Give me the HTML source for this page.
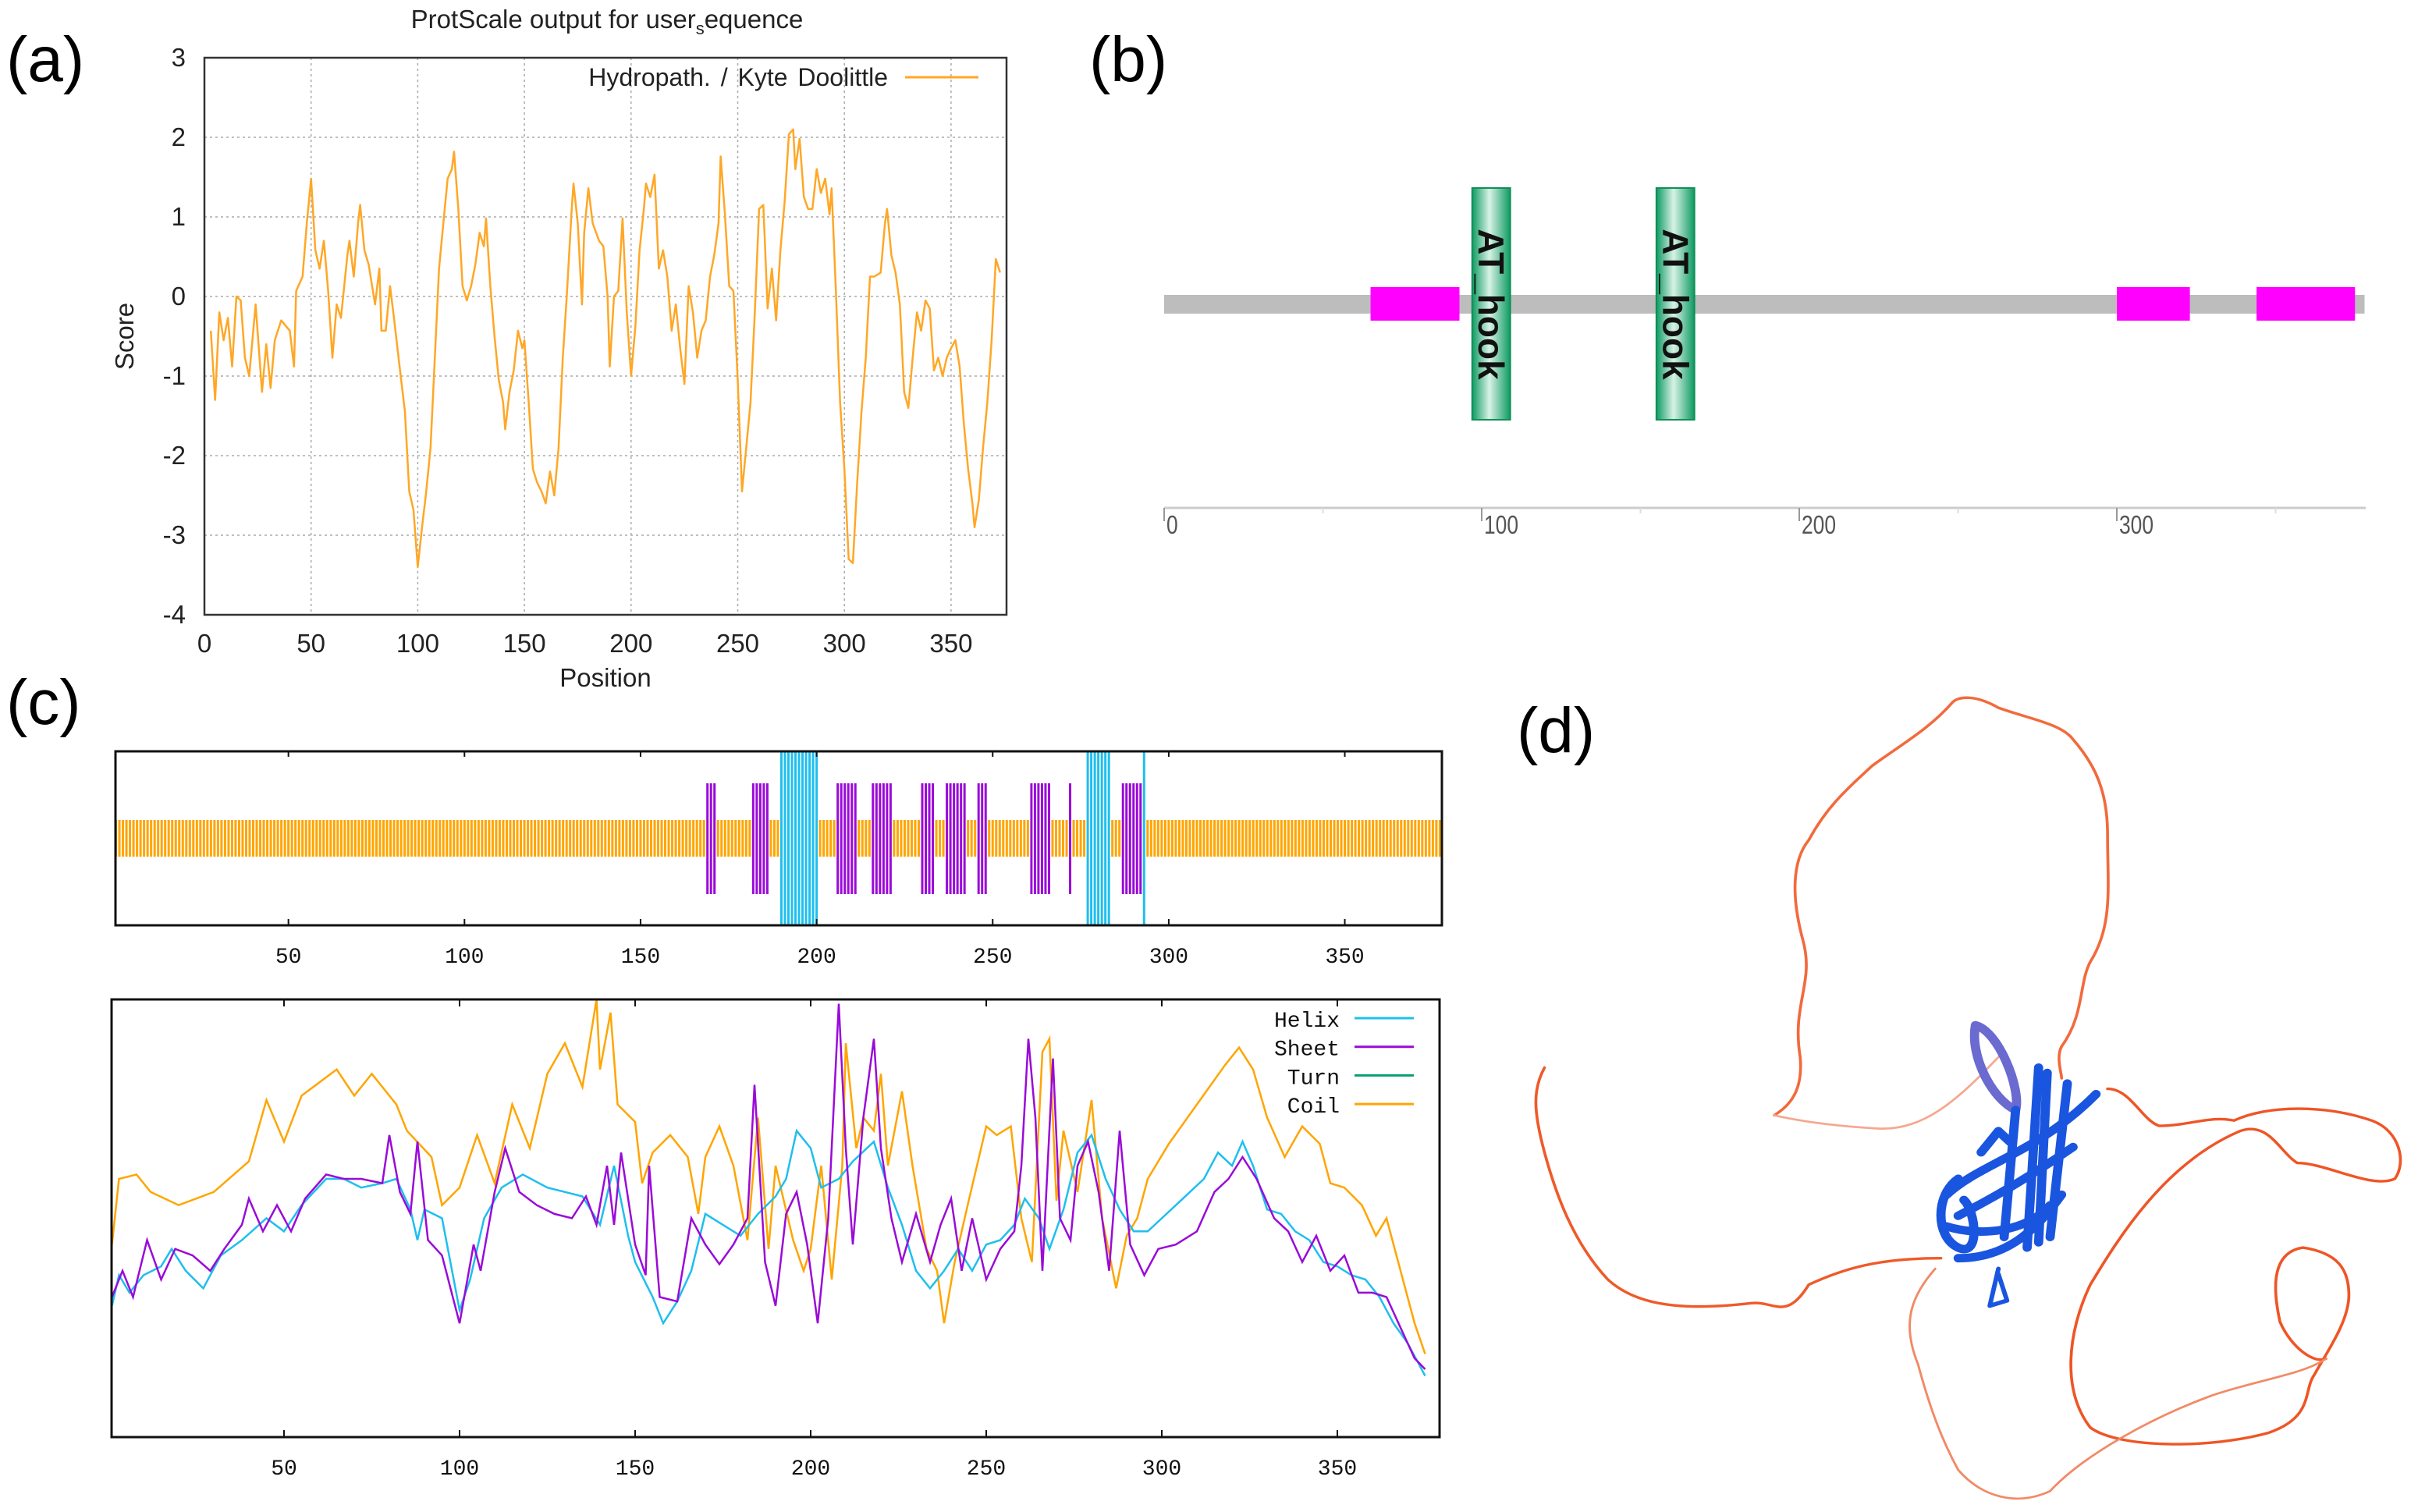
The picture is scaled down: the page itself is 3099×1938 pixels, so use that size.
<!DOCTYPE html>
<html><head><meta charset="utf-8"><style>
html,body{margin:0;padding:0;background:#fff;}
svg{display:block;}
text{font-family:"Liberation Sans",sans-serif;}
.mono{font-family:"Liberation Mono",monospace;}
</style></head><body>
<svg id="fig" xmlns="http://www.w3.org/2000/svg" width="3099" height="1938" viewBox="0 0 3099 1938">
<rect width="3099" height="1938" fill="#fff"/>
<text x="8" y="104" font-size="82">(a)</text>
<text x="1396" y="104" font-size="82">(b)</text>
<text x="8" y="928" font-size="82">(c)</text>
<text x="1944" y="964" font-size="82">(d)</text>

<g id="pa"></g>
<g id="pb"></g>
<g id="pc1"></g>
<g id="pc2"></g>

<g transform="translate(1950,880) scale(0.7364,0.6784)" fill="none" stroke-linecap="round" stroke-linejoin="round">
  <path stroke="#f26a3c" stroke-width="5" d="M440,810 C470,790 490,760 485,700 C470,600 510,560 490,480 C470,400 470,330 500,290 C530,230 560,200 610,150 C660,110 710,80 750,30 C760,18 790,15 830,40 C880,60 940,70 960,100 C1000,150 1020,200 1020,280 C1020,380 1030,450 990,520 C970,560 980,620 940,680 C930,700 940,730 940,740"/>
  <path stroke="#f5a890" stroke-width="4" d="M440,810 C480,820 540,830 620,835 C700,840 760,780 830,700"/>
  <path stroke="#ef5a2a" stroke-width="5" d="M40,720 C20,760 20,800 40,880 C60,960 90,1050 150,1120 C200,1170 280,1180 400,1165 C440,1160 460,1200 500,1130 C560,1100 620,1080 730,1080"/>
  <path stroke="#ef5526" stroke-width="5" d="M1020,760 C1060,760 1080,820 1110,830 C1160,830 1200,810 1240,820 C1300,790 1400,790 1480,820 C1530,840 1540,900 1520,930 C1480,950 1400,900 1350,900 C1320,880 1300,820 1250,840 C1120,900 1040,1040 990,1130 C950,1220 940,1330 990,1400 C1040,1440 1200,1440 1300,1410 C1380,1380 1360,1330 1380,1300 C1400,1260 1440,1200 1440,1150 C1440,1100 1420,1070 1360,1060 C1300,1070 1310,1150 1320,1200 C1340,1250 1380,1280 1400,1270"/>
  <path stroke="#f28a66" stroke-width="4" d="M720,1100 C680,1150 660,1200 690,1280 C710,1360 730,1420 760,1480 C800,1530 860,1550 920,1520 C980,1450 1100,1380 1200,1340 C1280,1310 1360,1300 1400,1270"/>
  <g stroke="#1a55e0" stroke-width="16">
    <path stroke="#6a6ad0" d="M790,640 C780,700 820,780 860,800 C870,760 830,650 790,640"/>
    <path d="M860,800 L840,1040 M900,720 L880,1060 M915,730 L900,1050 M950,750 L920,1040"/>
    <path d="M740,960 C800,900 900,880 1000,770 M760,1000 C850,950 920,900 960,870 M760,1080 C850,1080 900,1020 940,960 M740,1020 C800,1040 880,1030 920,980"/>
    <path d="M760,930 C720,960 720,1040 760,1060 C800,1080 790,990 770,970 M800,880 L830,840 L850,860"/>
    <path stroke-width="8" d="M830,1100 L815,1170 L845,1160 L830,1110"/>
  </g>
</g>
</svg>
<script>
var NS="http://www.w3.org/2000/svg";
function mk(p,t,a){var e=document.createElementNS(NS,t);for(var k in a)e.setAttribute(k,a[k]);p.appendChild(e);return e;}

/* ---------- Panel (a) data ---------- */
var hydroPos=[3,5,7,9,11,13,15,17,19,21,24,27,29,31,33,36,40,42,43,46,48,50,52,54,56,58,60,62,64,67,68,70,72,73,75,77,80,82,83,85,87,89,91,94,96,98,100,102,104,106,108,110,112,114,116,117,119,121,123,125,127,129,131,132,134,136,138,140,141,143,145,147,149,150,152,154,156,158,160,162,164,166,168,170,172,173,175,177,178,180,182,185,187,189,190,192,194,196,198,200,202,204,206,207,209,211,213,215,217,219,221,223,225,227,229,231,233,235,237,239,241,242,244,246,248,250,252,254,256,258,260,262,264,266,268,270,272,274,276,277,279,281,283,285,287,289,291,293,294,296,298,300,302,304,306,308,310,312,314,317,319,320,322,324,326,328,330,332,334,336,338,340,342,344,346,348,350,352,354,356,358,360,361,363,365,367,369,371,373];
var hydroScore=[-0.43,-1.3,-0.2,-0.55,-0.27,-0.88,0,-0.05,-0.77,-1.0,-0.1,-1.2,-0.6,-1.15,-0.55,-0.3,-0.43,-0.88,0.07,0.25,0.92,1.48,0.58,0.35,0.7,0.07,-0.77,-0.1,-0.27,0.52,0.7,0.25,0.92,1.15,0.58,0.4,-0.1,0.35,-0.43,-0.43,0.13,-0.3,-0.77,-1.45,-2.45,-2.68,-3.4,-2.9,-2.45,-1.9,-0.77,0.35,0.92,1.48,1.6,1.82,1.1,0.13,-0.05,0.13,0.4,0.8,0.63,0.98,0.13,-0.5,-1.05,-1.33,-1.67,-1.2,-0.93,-0.43,-0.65,-0.55,-1.33,-2.17,-2.34,-2.45,-2.6,-2.2,-2.5,-1.9,-0.77,0.07,1.03,1.42,0.92,-0.1,0.8,1.36,0.92,0.7,0.63,0,-0.88,0,0.07,0.98,-0.2,-1.0,-0.38,0.58,1.1,1.42,1.25,1.53,0.35,0.58,0.25,-0.43,-0.1,-0.65,-1.1,0.13,-0.2,-0.77,-0.43,-0.3,0.25,0.52,0.92,1.76,1.03,0.13,0.07,-1.05,-2.45,-1.9,-1.33,-0.2,1.1,1.15,-0.15,0.35,-0.3,0.58,1.2,2.04,2.1,1.6,1.98,1.25,1.1,1.1,1.6,1.3,1.48,1.03,1.36,0.07,-1.33,-2.17,-3.3,-3.35,-2.34,-1.45,-0.77,0.25,0.25,0.3,0.92,1.1,0.52,0.3,-0.1,-1.2,-1.4,-0.77,-0.2,-0.43,-0.05,-0.15,-0.93,-0.77,-1.0,-0.77,-0.65,-0.55,-0.88,-1.6,-2.17,-2.6,-2.9,-2.56,-1.9,-1.33,-0.55,0.47,0.3];
var hydroXTicks=[0,50,100,150,200,250,300,350];
var hydroYTicks=[3,2,1,0,-1,-2,-3,-4];

/* ---------- Panel (b) data ---------- */
var protLength=378;
var motifStart=[65,300,344];
var motifEnd=[93,323,375];
var domainStart=[97,155];
var domainEnd=[109,167];
var domainLabel=['AT_hook','AT_hook'];
var domainXTicks=[0,100,200,300];

/* ---------- Panel (c) data ---------- */
var seqLength=377;
var sheetStart=[169,182,206,216,230,237,246,261,272,287];
var sheetEnd=[171,186,211,221,233,242,248,266,272,292];
var helixStart=[190,277,293];
var helixEnd=[200,283,293];
var ssXTicks=[50,100,150,200,250,300,350];
var predPos=[1,3,6,10,15,18,22,27,32,38,45,50,55,62,67,72,78,82,86,88,90,95,100,103,107,112,118,125,130,135,140,144,148,150,155,158,162,166,170,175,180,185,190,193,196,200,203,208,212,218,222,226,230,234,238,242,246,250,254,258,261,265,268,272,276,280,284,288,292,296,300,306,312,316,320,323,326,330,334,338,342,346,350,354,358,362,366,370,375];
var helixVal=[30,37,33,37,39,43,38,34,41.5,45,50,47,53,59,59,57,58,59,52,45,52,50,29,36,50,57,60,57,56,55,48.5,62,46,40,32,26,31,38,51,48.5,46,51,55,59,70,66,57,59,63,67.5,57,48.5,38,34,38,43,38,44,45,48.5,54.5,50,43,52,65,69,59,52,47,47,50,54.5,59,65,62,67.5,62,52,51,47,45,40,39,37,36,32,26,21.5,14];
var sheetPos=[1,4,7,11,15,19,24,29,33,38,40,44,48,52,56,62,67,72,78,80,83,86,88,91,95,100,104,106,110,113,117,122,127,132,136,139,142,144,146,150,153,154,157,162,166,170,174,178,182,184,187,190,193,196,199,202,205,208,210,212,215,218,220,223,226,230,234,237,240,243,246,250,254,258,260,262,264,266,269,271,274,276,279,282,285,288,291,295,299,304,310,315,319,323,327,332,336,340,344,348,352,356,360,364,368,372,375];
var sheetVal=[32,38,32,45,36,43,41.5,38,43,48.5,54.5,47,53,47,54.5,60,59,59,58,69,56,51,67.5,45,41.5,26,44,38,56,66,56,53,51,50,55,48.5,62,48.5,65,44,37,62,32,31,50,44,39.5,44,50,80.5,40,30,51,56,44,26,50,99,66,44,73,91,66,50,40,51,40,48.5,54.5,38,50,36,43,47,62,91,73,38,86.5,50,45,62,67.5,56,38,70,44,37,43,44,47,56,59,64,59,50,47,40,46,38,41.5,33,33,32,25,18,15.5];
var coilPos=[1,3,8,12,20,30,40,45,50,55,65,70,75,82,85,92,95,100,105,110,115,120,125,130,135,139,140,143,145,150,152,155,160,165,168,170,174,178,182,185,188,190,195,198,200,203,206,209,210,213,215,218,220,222,226,229,233,236,238,241,245,250,253,257,260,263,266,268,270,272,276,280,283,287,290,293,296,302,310,318,322,326,330,335,340,345,348,352,357,361,364,368,372,375];
var coilVal=[44,59,60,56,53,56,63,77,67.5,78,84,78,83,76,70,64,53,57,69,58,76,66,83,90,80,100,84,97,76,72,58,65,69,64,51,64,71,62,45,73,43,62,45,38,43,62,36,62,90,66,73,70,83,62,79,62,43,38,26,40,54,71,69,71,50,40,88,91,54,70,56,77,50,34,46,50,59,67,76,85,89,84,73,64,71,67,58,57,53,46,50,38,26,19];
var legendNames=['Helix','Sheet','Turn','Coil'];
var seriesColors=['#1ebfee','#9a0ad8','#0a9e76','#ffa500'];

(function(){
var g=document.getElementById('pa');
var L=262,R=1290,T=74,B=788,xmin=0,xmax=376,ymin=-4,ymax=3;
function X(v){return L+(v-xmin)/(xmax-xmin)*(R-L);}
function Y(v){return B-(v-ymin)/(ymax-ymin)*(B-T);}
var e;
hydroXTicks.forEach(function(t){
  if(t>0){e=mk(g,'line',{x1:X(t),x2:X(t),y1:T,y2:B,stroke:'#aaa','stroke-width':1.5,'stroke-dasharray':'3,4'});
  
  }
  e=mk(g,'text',{x:X(t),y:B+48,'font-size':33,'text-anchor':'middle',fill:'#222'});e.textContent=t;
  
  
});
hydroYTicks.forEach(function(t){
  if(t>ymin&&t<ymax){e=mk(g,'line',{x1:L,x2:R,y1:Y(t),y2:Y(t),stroke:'#aaa','stroke-width':1.5,'stroke-dasharray':'3,4'});
  
  }
  e=mk(g,'text',{x:L-24,y:Y(t)+11,'font-size':33,'text-anchor':'end',fill:'#222'});e.textContent=t;
  
  
});
e=mk(g,'rect',{x:L,y:T,width:R-L,height:B-T,fill:'none',stroke:'#333','stroke-width':2.5});


var d='';hydroPos.forEach(function(p,i){d+=(i?'L':'M')+X(p).toFixed(1)+','+Y(hydroScore[i]).toFixed(1);});
e=mk(g,'path',{d:d,fill:'none',stroke:'#ffa726','stroke-width':2.5,'stroke-linejoin':'round'});


e=mk(g,'text',{x:778,y:36,'font-size':33,'text-anchor':'middle',fill:'#222'});
var t1=mk(e,'tspan',{});t1.textContent='ProtScale output for user';
var t2=mk(e,'tspan',{'font-size':22,dy:8});t2.textContent='s';
var t3=mk(e,'tspan',{dy:-8});t3.textContent='equence';


e=mk(g,'text',{x:776,y:880,'font-size':33,'text-anchor':'middle',fill:'#222'});e.textContent='Position';


e=mk(g,'text',{x:171,y:431,'font-size':33,'text-anchor':'middle',fill:'#222',transform:'rotate(-90 171 431)'});e.textContent='Score';


e=mk(g,'text',{x:1138,y:110,'font-size':32,'text-anchor':'end',fill:'#222',style:'word-spacing:4px'});e.textContent='Hydropath. / Kyte  Doolittle';


e=mk(g,'line',{x1:1160,x2:1254,y1:99,y2:99,stroke:'#ffa726','stroke-width':3});


})();

(function(){
var g=document.getElementById('pb');
var x0=1492,ppu=4.07;function X(v){return x0+v*ppu;}
var e;
e=mk(g,'rect',{x:X(0),y:378,width:X(protLength)-X(0),height:24,fill:'#bdbdbd'});


motifStart.forEach(function(s,i){
  e=mk(g,'rect',{x:X(s),y:368,width:X(motifEnd[i])-X(s),height:43,fill:'#ff00ff'});
  
  
});
var defs=mk(g,'defs',{});
var lg=mk(defs,'linearGradient',{id:'grn',x1:0,x2:1,y1:0,y2:0});
mk(lg,'stop',{offset:'0','stop-color':'#0e9a62'});mk(lg,'stop',{offset:'0.45','stop-color':'#d8f2e6'});mk(lg,'stop',{offset:'1','stop-color':'#0e9a62'});
domainStart.forEach(function(s,i){
  var x=X(s),w=X(domainEnd[i])-X(s);
  e=mk(g,'rect',{x:x,y:241,width:w,height:297,fill:'url(#grn)',stroke:'#0e8f58','stroke-width':2});
  
  
  var cx=x+w/2;
  e=mk(g,'text',{x:cx,y:390,'font-size':46,'font-weight':'bold','text-anchor':'middle',fill:'#111',transform:'rotate(90 '+cx+' 390) translate(0 16)'});e.textContent=domainLabel[i];
  
  
});
e=mk(g,'line',{x1:X(0),x2:3032,y1:651,y2:651,stroke:'#ccc','stroke-width':3});


[50,150,250,350].forEach(function(t){e=mk(g,'line',{x1:X(t),x2:X(t),y1:651,y2:658,stroke:'#ddd','stroke-width':2});
  
  });
domainXTicks.forEach(function(t){
  e=mk(g,'line',{x1:X(t),x2:X(t),y1:651,y2:668,stroke:'#999','stroke-width':2});
  
  
  e=mk(g,'text',{x:(X(t)+3)/0.8,y:684,'font-size':33,fill:'#555',transform:'scale(0.8,1)'});e.textContent=t;
  
  
});
})();

(function(){
var g=document.getElementById('pc1');
var x0=144,ppu=4.513;function X(v){return x0+v*ppu;}
var e;
function inR(r,s,en){for(var i=0;i<s.length;i++){if(r>=s[i]&&r<=en[i])return true;}return false;}
for(var r=1;r<=seqLength;r++){
  var isS=inR(r,sheetStart,sheetEnd),isH=inR(r,helixStart,helixEnd);
  if(isH){e=mk(g,'rect',{x:X(r)-1.5,y:964,width:3,height:222,fill:seriesColors[0]});
    
    }
  else if(isS){e=mk(g,'rect',{x:X(r)-1.5,y:1004,width:3,height:142,fill:seriesColors[1]});
    
    }
  else{e=mk(g,'rect',{x:X(r)-1.5,y:1051,width:3,height:47,fill:seriesColors[3]});
    
    }
}
e=mk(g,'rect',{x:148,y:963,width:1700,height:223,fill:'none',stroke:'#111','stroke-width':3});


ssXTicks.forEach(function(t){
  e=mk(g,'line',{x1:X(t),x2:X(t),y1:1186,y2:1178,stroke:'#111','stroke-width':2});
  
  
  e=mk(g,'line',{x1:X(t),x2:X(t),y1:963,y2:970,stroke:'#111','stroke-width':2});
  
  
  e=mk(g,'text',{x:X(t),y:1234,'font-size':28,'text-anchor':'middle',fill:'#111','class':'mono'});e.textContent=t;
  
  
});
})();

(function(){
var g=document.getElementById('pc2');
var x0=139,ppu=4.5;function X(v){return x0+v*ppu;}
var T=1281,B=1842;function Y(v){return B-v/100*(B-T);}
var e;
var ser=[[predPos,helixVal,0,'helix-line'],[sheetPos,sheetVal,1,'sheet-line'],[coilPos,coilVal,3,'coil-line']];
[2,0,1].forEach(function(k){
  var s=ser[k];var d='';s[0].forEach(function(p,i){d+=(i?'L':'M')+X(p).toFixed(1)+','+Y(s[1][i]).toFixed(1);});
  e=mk(g,'path',{d:d,fill:'none',stroke:seriesColors[s[2]],'stroke-width':2.5});
  
  
});
e=mk(g,'rect',{x:143,y:T,width:1702,height:B-T,fill:'none',stroke:'#111','stroke-width':3});


ssXTicks.forEach(function(t){
  e=mk(g,'line',{x1:X(t),x2:X(t),y1:B,y2:B-9,stroke:'#111','stroke-width':2});
  
  
  e=mk(g,'line',{x1:X(t),x2:X(t),y1:T,y2:T+9,stroke:'#111','stroke-width':2});
  
  
  e=mk(g,'text',{x:X(t),y:1890,'font-size':28,'text-anchor':'middle',fill:'#111','class':'mono'});e.textContent=t;
  
  
});
legendNames.forEach(function(n,i){
  var y=1305+i*36.7;
  e=mk(g,'text',{x:1717,y:y+11,'font-size':28,'text-anchor':'end',fill:'#111','class':'mono'});e.textContent=n;
  
  
  e=mk(g,'line',{x1:1736,x2:1812,y1:y,y2:y,stroke:seriesColors[i],'stroke-width':3});
  
  
});
})();
</script>
</body></html>
